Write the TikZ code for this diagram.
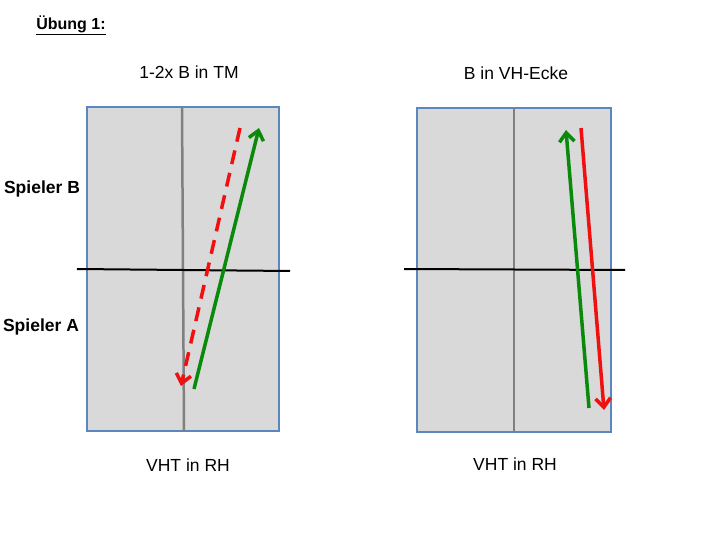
\documentclass[tikz,border=0pt]{standalone}
\usepackage{fontspec}
\setmainfont{Liberation Sans}
\usetikzlibrary{arrows.meta}
\definecolor{fieldgray}{HTML}{D9D9D9}
\definecolor{fieldblue}{HTML}{5B86C0}
\definecolor{arrgreen}{HTML}{0A8A0A}
\definecolor{arrred}{HTML}{F01010}
\begin{document}
\begin{tikzpicture}[x=1pt,y=-1pt,
  field/.style={fill=fieldgray,draw=fieldblue,line width=2pt},
  midline/.style={draw=gray,line width=2.5pt},
  netline/.style={draw=black,line width=2pt},
  move/.style={line width=3.5pt,-{Straight Barb[length=9pt,width=15pt,line width=3.5pt]}},
  lbl/.style={font=\fontsize{17.5}{20}\selectfont,inner sep=0pt},
  blbl/.style={font=\fontsize{17.5}{20}\selectfont\bfseries,inner sep=0pt}]
\useasboundingbox (0,0) rectangle (720,540);
% titles
\node[font=\fontsize{16}{18}\selectfont\bfseries,inner sep=0pt] (title) at (71,25) {\underline{Übung 1:}};
\node[lbl] (t1) at (189,72) {1-2x B in TM};
\node[lbl] (t2) at (516,73) {B in VH-Ecke};
\node[blbl] (sb) at (42,189) {Spieler B};
\node[blbl] (sa) at (41,327) {Spieler A};
\node[lbl] (b1) at (188,465) {VHT in RH};
\node[lbl] (b2) at (515,464) {VHT in RH};
% left field
\draw[field] (87,107) rectangle (279,431);
\draw[midline] (182,107) -- (184,431);
\draw[netline] (77,269) -- (290,271);
\coordinate (lg1) at (194,389);
\coordinate (lg2) at (259,128);
\coordinate (lr1) at (240,128);
\coordinate (lr2) at (181,386);
\draw[move,arrred,dash pattern=on 14pt off 9pt] (lr1) -- (lr2);
\draw[move,arrgreen] (lg1) -- (lg2);
% right field
\draw[field] (417,108) rectangle (611,432);
\draw[midline] (514,108) -- (514,432);
\draw[netline] (404,269) -- (625,270);
\coordinate (rg1) at (589,408);
\coordinate (rg2) at (566,130);
\coordinate (rr1) at (581,128);
\coordinate (rr2) at (604,410);
\draw[move,arrgreen] (rg1) -- (rg2);
\draw[move,arrred] (rr1) -- (rr2);
\end{tikzpicture}
\end{document}
